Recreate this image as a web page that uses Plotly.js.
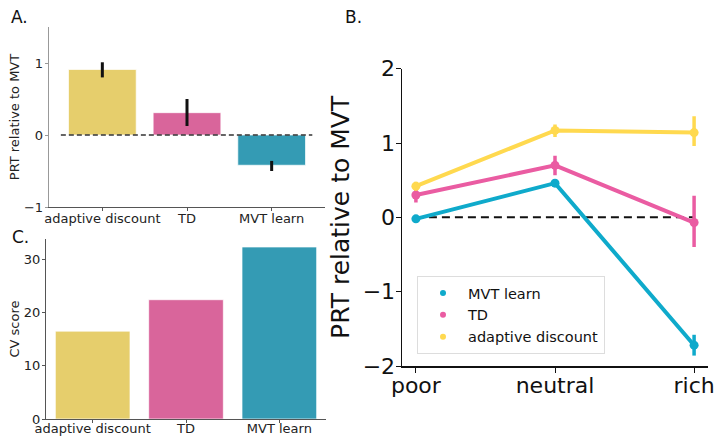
<!DOCTYPE html>
<html>
<head>
<meta charset="utf-8">
<script src="https://cdn.plot.ly/plotly-3.0.1.min.js"></script>
<style>html,body{margin:0;padding:0;background:#fff;}#chart{width:715px;height:437px;}</style>
</head>
<body>
<div id="chart"></div>
<script>
// Panel A: PRT relative to MVT by model
const modelsA = ["adaptive discount", "TD", "MVT learn"];
const prtA = [0.91, 0.31, -0.42];
const prtAHigh = [1.01, 0.50, -0.36];
const prtALow = [0.80, 0.125, -0.50];

// Panel C: CV score by model
const modelsC = ["adaptive discount", "TD", "MVT learn"];
const cvScore = [16.5, 22.4, 32.3];

// Panel B: PRT relative to MVT by environment
const envs = ["poor", "neutral", "rich"];
const seriesNames = ["MVT learn", "TD", "adaptive discount"];
const mvtLearn = [-0.02, 0.46, -1.72];
const mvtLearnHigh = [0.01, 0.51, -1.58];
const mvtLearnLow = [-0.05, 0.41, -1.86];
const tdB = [0.30, 0.70, -0.07];
const tdBHigh = [0.38, 0.83, 0.29];
const tdBLow = [0.20, 0.565, -0.40];
const adB = [0.42, 1.17, 1.14];
const adBHigh = [0.48, 1.25, 1.36];
const adBLow = [0.36, 1.08, 0.96];

const barColors = ["#E6CE6C", "#D9659B", "#349BB4"];
const lineColors = ["#0FAACB", "#EA5CA2", "#FFD94F"];
const FONT = "DejaVu Sans, Liberation Sans, sans-serif";

function diff(a, b) { return a.map((v, i) => Math.abs(v - b[i])); }

const traces = [];
traces.push({
  type: "bar", x: modelsA, y: prtA, xaxis: "x", yaxis: "y",
  width: 0.8,
  marker: {color: barColors, line: {color: "rgba(255,255,255,0.7)", width: 1}},
  error_y: {type: "data", symmetric: false, array: diff(prtAHigh, prtA), arrayminus: diff(prtA, prtALow),
            color: "#111", thickness: 3, width: 0},
  showlegend: false, hoverinfo: "x+y"
});
traces.push({
  type: "bar", x: modelsC, y: cvScore, xaxis: "x3", yaxis: "y3",
  width: 0.8,
  marker: {color: barColors, line: {color: "rgba(255,255,255,0.7)", width: 1}},
  showlegend: false
});

const bSeries = [
  [mvtLearn, mvtLearnHigh, mvtLearnLow],
  [tdB, tdBHigh, tdBLow],
  [adB, adBHigh, adBLow]
];
bSeries.forEach((s, i) => {
  traces.push({
    type: "scatter", mode: "lines", x: envs, y: s[0], xaxis: "x2", yaxis: "y2",
    line: {color: lineColors[i], width: 4}, showlegend: false, hoverinfo: "skip"
  });
  traces.push({
    type: "scatter", mode: "markers", x: envs, y: s[0], xaxis: "x2", yaxis: "y2",
    name: seriesNames[i], showlegend: false,
    marker: {color: lineColors[i], size: 9},
    error_y: {type: "data", symmetric: false, array: diff(s[1], s[0]), arrayminus: diff(s[0], s[2]),
              color: lineColors[i], thickness: 3.5, width: 0}
  });
});
// legend entries (small dots, as in the reference legend)
seriesNames.forEach((n, i) => {
  traces.push({
    type: "scatter", mode: "markers", x: [null], y: [null], xaxis: "x2", yaxis: "y2",
    name: n, marker: {color: lineColors[i], size: 6}, hoverinfo: "skip"
  });
});

const W = 715, H = 437;
const px = v => v / W, py = v => (H - v) / H;

const layout = {
  width: W, height: H,
  margin: {l: 0, r: 0, t: 0, b: 0},
  paper_bgcolor: "#fff", plot_bgcolor: "#fff",
  font: {family: FONT, color: "#222"},
  showlegend: true,
  legend: {
    x: px(417), y: py(276), xanchor: "left", yanchor: "top",
    bordercolor: "#dddddd", borderwidth: 1, bgcolor: "#fff",
    font: {size: 14.5, family: FONT, color: "#111"},
    traceorder: "normal", itemwidth: 40
  },
  bargap: 0.2,
  xaxis: {
    domain: [px(49), px(325)], anchor: "y", range: [-0.63, 2.63],
    showline: true, linecolor: "#555", linewidth: 1.2, ticks: "outside", ticklen: 3, tickcolor: "#555",
    showgrid: false, zeroline: false, tickfont: {size: 13, color: "#222"}, ticklabelstandoff: -4
  },
  yaxis: {
    domain: [py(207), py(27)], anchor: "x", range: [-1, 1.5],
    showline: true, linecolor: "#999", linewidth: 1.3, ticks: "outside", ticklen: 3, tickcolor: "#999",
    tickvals: [-1, 0, 1], ticktext: ["\u22121", "0", "1"],
    showgrid: false, zeroline: false, tickfont: {size: 13, color: "#222"}, ticklabelstandoff: -1,
    title: {text: "PRT relative to MVT", font: {size: 13, color: "#222"}, standoff: 1}
  },
  xaxis3: {
    domain: [px(46), px(326)], anchor: "y3", range: [-0.5, 2.5],
    showline: true, linecolor: "#555", linewidth: 1.2, ticks: "outside", ticklen: 3, tickcolor: "#555",
    showgrid: false, zeroline: false, tickfont: {size: 13, color: "#222"}, ticklabelstandoff: -6
  },
  yaxis3: {
    domain: [py(419), py(239)], anchor: "x3", range: [0, 33.8],
    showline: true, linecolor: "#555", linewidth: 1.2, ticks: "outside", ticklen: 3, tickcolor: "#555",
    tickvals: [0, 10, 20, 30],
    showgrid: false, zeroline: false, tickfont: {size: 13, color: "#222"}, ticklabelstandoff: -1,
    title: {text: "CV score", font: {size: 13, color: "#222"}, standoff: 1}
  },
  xaxis2: {
    domain: [px(402), px(708)], anchor: "y2", range: [-0.1, 2.1],
    showline: true, linecolor: "#111", linewidth: 1.5, ticks: "outside", ticklen: 5, tickcolor: "#111",
    showgrid: false, zeroline: false, tickfont: {size: 22, color: "#111"}, ticklabelstandoff: -6
  },
  yaxis2: {
    domain: [py(366), py(68.7)], anchor: "x2", range: [-2, 2],
    showline: true, linecolor: "#111", linewidth: 1.5, ticks: "outside", ticklen: 5, tickcolor: "#111",
    tickvals: [-2, -1, 0, 1, 2], ticktext: ["\u22122", "\u22121", "0", "1", "2"],
    showgrid: false, zeroline: false, tickfont: {size: 22, color: "#111"}, ticklabelstandoff: -4,
    title: {text: "PRT relative to MVT", font: {size: 25, color: "#111"}, standoff: 6}
  },
  shapes: [
    {type: "line", xref: "x", yref: "y", x0: -0.49, x1: 2.48, y0: 0, y1: 0,
     line: {color: "#333", width: 1.5, dash: "5px,3px"}, layer: "above"},
    {type: "line", xref: "x2", yref: "y2", x0: 0, x1: 2, y0: 0, y1: 0,
     line: {color: "#111", width: 2, dash: "8px,5px"}, layer: "below"}
  ],
  annotations: [
    {text: "A.", xref: "paper", yref: "paper", x: px(9), y: py(17), xanchor: "left", yanchor: "middle",
     showarrow: false, font: {size: 17, color: "#111"}},
    {text: "B.", xref: "paper", yref: "paper", x: px(343), y: py(17), xanchor: "left", yanchor: "middle",
     showarrow: false, font: {size: 17, color: "#111"}},
    {text: "C.", xref: "paper", yref: "paper", x: px(10), y: py(237), xanchor: "left", yanchor: "middle",
     showarrow: false, font: {size: 17, color: "#111"}}
  ]
};

Plotly.newPlot("chart", traces, layout, {displayModeBar: false, staticPlot: true});
</script>
</body>
</html>
